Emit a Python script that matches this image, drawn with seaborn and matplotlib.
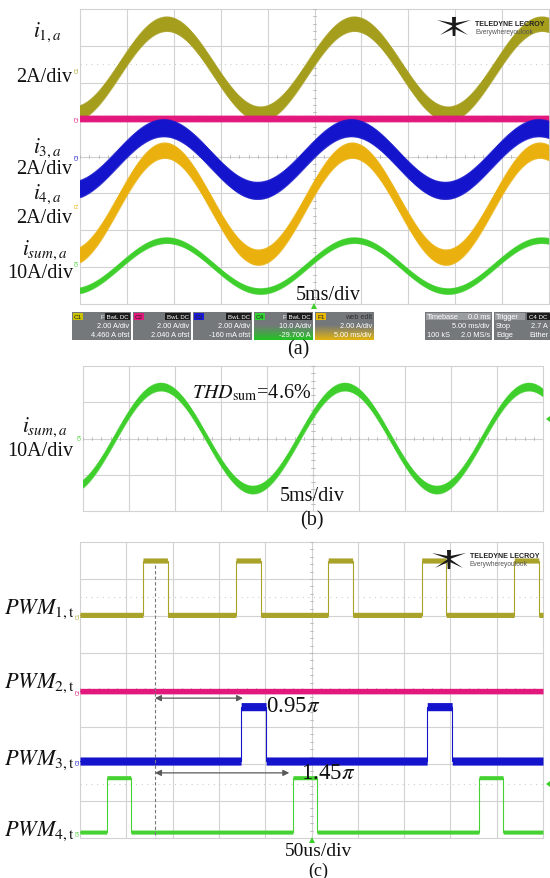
import numpy as np
import pandas as pd
import matplotlib
matplotlib.use("Agg")
import matplotlib.pyplot as plt
from matplotlib.patches import Rectangle, Polygon
import seaborn as sns

W, H, DPI = 550, 879, 100

# ---------------- (a) leg currents, 5 ms/div ----------------
a_channels = ["i1", "i2", "i3", "i4", "isum"]
a_colors = ["#a59d1c", "#e2187c", "#1414cc", "#eab10e", "#3fcf2c"]
a_scale = [2.0, 2.0, 2.0, 2.0, 10.0]              # A/div
a_offset = [4.46, 2.04, -0.16, -2.58, -29.70]     # A (scope offset)
a_dc = [0.28, 0.0, 0.0, 0.0, 0.0]                 # A
a_amp = [2.44, 0.0, 1.70, 2.90, 6.90]             # A peak
a_peak_ms = [9.26, 9.26, 8.94, 9.04, 9.26]        # first positive peak
a_ripple = [0.80, 0.33, 0.95, 0.85, 1.60]         # A peak-to-peak
a_marks = ["C1", "C2", "C3", "F1", "C4"]

# ---------------- (b) summed current, 5 ms/div ----------------
b_amp = 14.2        # A peak
b_peak_ms = 8.48
b_ripple = 2.2      # A peak-to-peak
b_scale = 10.0
b_thd = "4.6%"

# ---------------- (c) gate signals, 50 us/div ----------------
c_channels = ["PWM1", "PWM2", "PWM3", "PWM4"]
c_colors = ["#aaa32a", "#e2187c", "#1414cc", "#46d232"]
c_low = [2.03, -0.03, -1.92, -3.84]               # div
c_pulse_height = 1.47                             # div
c_band = [0.14, 0.15, 0.22, 0.11]                 # div
c_starts = [[68.0, 168.5, 268.0, 369.0, 469.0], [], [174.0, 375.0], [29.0, 230.0, 431.0]]
c_width = [26.5, 0.0, 27.0, 26.0]                 # us
c_ref_us = 81.0                                   # dashed reference line
c_half_period_us = 100.0                          # pi
c_phase = [0.95, 1.45]
c_phase_y = [-0.22, -2.24]                        # div

F_FUND = 50.0       # Hz
F_SW = 10000.0      # Hz

sns.set_theme(style="white")
plt.rcParams["font.family"] = ["Liberation Serif", "DejaVu Serif"]
plt.rcParams["mathtext.fontset"] = "stix"

fig = plt.figure(figsize=(W / DPI, H / DPI), dpi=DPI)
fig.patch.set_facecolor("white")


def add_ax(x0, y0, x1, y1):
    return fig.add_axes([x0 / W, 1 - y1 / H, (x1 - x0) / W, (y1 - y0) / H])


GRID = "#d2d2d2"


def scope_grid(ax, xmax, ndiv_y):
    half = ndiv_y / 2
    ax.set_xlim(0, xmax)
    ax.set_ylim(-half, half)
    ax.axis("off")
    for i in range(11):
        ax.axvline(i * xmax / 10, color=GRID, lw=0.8, clip_on=False, zorder=0)
    for j in range(ndiv_y + 1):
        ax.axhline(-half + j, color=GRID, lw=0.8, clip_on=False, zorder=0)
    dx = xmax / 10
    for k in range(51):
        x = k * dx / 5
        ax.plot([x, x], [-0.05, 0.05], color="#b5b5b5", lw=0.6, zorder=0)
    for k in range(ndiv_y * 5 + 1):
        y = -half + k / 5
        ax.plot([xmax / 2 - dx * 0.04, xmax / 2 + dx * 0.04], [y, y], color="#b5b5b5", lw=0.6, zorder=0)


def zigzag_trace(t_end_ms, center, ripple):
    # switching ripple sampled at each half period of the carrier
    half = 1000.0 / F_SW / 2
    t = np.arange(0, t_end_ms + half, half)
    sign = np.where(np.arange(len(t)) % 2 == 0, 1.0, -1.0)
    return t, center(t) + sign * ripple / 2


# ---------------- panel (a) ----------------
ax_a = add_ax(80, 10, 549, 305)
scope_grid(ax_a, 50, 8)
ax_a.axhline((157.5 - 65) / 36.9, color="#cfcfcf", lw=0.8, ls=(0, (1, 4)), zorder=0)
rows = []
for ch, sc, off, dc, amp, pk, rip in zip(a_channels, a_scale, a_offset, a_dc, a_amp, a_peak_ms, a_ripple):
    center = lambda t, amp=amp, pk=pk, dc=dc, off=off, sc=sc: (
        amp * np.cos(2 * np.pi * F_FUND * (t - pk) / 1000.0) + dc + off) / sc
    t, y = zigzag_trace(50, center, rip / sc)
    rows.append(pd.DataFrame({"t": t, "y": y, "ch": ch}))
    tt = np.linspace(0, 50, 1200)
    col = a_colors[a_channels.index(ch)]
    ax_a.fill_between(tt, center(tt) - rip / sc / 2, center(tt) + rip / sc / 2,
                      color=col, alpha=0.5, lw=0, zorder=1 + a_channels.index(ch))
df_a = pd.concat(rows)
for i, ch in enumerate(a_channels):
    sns.lineplot(data=df_a[df_a.ch == ch], x="t", y="y", color=a_colors[i], lw=0.6,
                 estimator=None, sort=False, legend=False, ax=ax_a, zorder=1 + i)
ax_a.set_xlim(0, 50)
ax_a.set_ylim(-4, 4)

# ---------------- panel (b) ----------------
ax_b = add_ax(83, 367, 543, 512)
scope_grid(ax_b, 50, 4)
center_b = lambda t: b_amp * np.cos(2 * np.pi * F_FUND * (t - b_peak_ms) / 1000.0) / b_scale
t_b, y_b = zigzag_trace(50, center_b, b_ripple / b_scale)
df_b = pd.DataFrame({"t": t_b, "y": y_b})
tt = np.linspace(0, 50, 1200)
ax_b.fill_between(tt, center_b(tt) - b_ripple / b_scale / 2, center_b(tt) + b_ripple / b_scale / 2,
                  color="#3fcf2c", alpha=0.5, lw=0)
sns.lineplot(data=df_b, x="t", y="y", color="#3fcf2c", lw=0.6, estimator=None, sort=False,
             legend=False, ax=ax_b)
ax_b.set_xlim(0, 50)
ax_b.set_ylim(-2, 2)

# ---------------- panel (c) ----------------
ax_c = add_ax(80, 543, 543, 839)
scope_grid(ax_c, 500, 8)
for yy in [(691 - 598) / 37, (691 - 785) / 37]:
    ax_c.axhline(yy, color="#cfcfcf", lw=0.8, ls=(0, (1, 4)), zorder=0)
tc = np.linspace(0, 500, 5001)
rows = []
for i, ch in enumerate(c_channels):
    level = np.full_like(tc, c_low[i])
    xs, ys = [0.0], [c_low[i]]
    for s in c_starts[i]:
        e = s + c_width[i]
        level[(tc >= s) & (tc < e)] += c_pulse_height
        xs += [s, s, e, e]
        ys += [c_low[i], c_low[i] + c_pulse_height, c_low[i] + c_pulse_height, c_low[i]]
    xs.append(500.0)
    ys.append(c_low[i])
    rows.append(pd.DataFrame({"t": xs, "y": ys, "ch": ch}))
    ax_c.fill_between(tc, level - c_band[i] / 2, level + c_band[i] / 2, color=c_colors[i],
                      lw=0, zorder=2 + i)
df_c = pd.concat(rows)
for i, ch in enumerate(c_channels):
    sns.lineplot(data=df_c[df_c.ch == ch], x="t", y="y", color=c_colors[i], lw=0.8,
                 estimator=None, sort=False, legend=False, ax=ax_c, zorder=2 + i)
ax_c.plot([c_ref_us, c_ref_us], [3.38, -4], color="#777777", lw=0.8, ls=(0, (3, 2)), zorder=6)
for ph, yy in zip(c_phase, c_phase_y):
    ax_c.annotate("", xy=(c_ref_us + ph * c_half_period_us, yy), xytext=(c_ref_us, yy),
                  arrowprops=dict(arrowstyle="<|-|>", color="#5a5a5a", lw=0.9,
                                  mutation_scale=9, shrinkA=0, shrinkB=0), zorder=7)
ax_c.set_xlim(0, 500)
ax_c.set_ylim(-4, 4)

# ---------------- overlay in pixel coordinates ----------------
ov = fig.add_axes([0, 0, 1, 1])
ov.set_xlim(0, W)
ov.set_ylim(H, 0)
ov.axis("off")
ov.patch.set_alpha(0)

SER = dict(color="#111111", ha="center", va="center")
# (a) labels
ov.text(47, 32, r"$i_{1,a}$", fontsize=15.5, **SER)
ov.text(44, 78, "2A/div", fontsize=14.5, **SER)
ov.text(47, 148, r"$i_{3,a}$", fontsize=15.5, **SER)
ov.text(44, 170, "2A/div", fontsize=14.5, **SER)
ov.text(47, 194, r"$i_{4,a}$", fontsize=15.5, **SER)
ov.text(44, 219, "2A/div", fontsize=14.5, **SER)
ov.text(45, 250, r"$i_{sum,a}$", fontsize=15.5, **SER)
ov.text(40, 274, "10A/div", fontsize=14.5, **SER)
ov.text(328, 296, "5ms/div", fontsize=14.5, **SER)
ov.text(298, 350, "(a)", fontsize=14.5, **SER)
# (b) labels
ov.text(45, 427, r"$i_{sum,a}$", fontsize=15.5, **SER)
ov.text(40, 452, "10A/div", fontsize=14.5, **SER)
ov.text(252, 393, r"$THD_{\mathrm{sum}}$=" + b_thd, fontsize=14.5, **SER)
ov.text(312, 497, "5ms/div", fontsize=14.5, **SER)
ov.text(312, 521, "(b)", fontsize=14.5, **SER)
# (c) labels
for i, base in enumerate([614, 688, 765, 836]):
    ov.text(75, base, r"$PWM_{%d,\mathrm{t}}$" % (i + 1), fontsize=16, color="#111111",
            ha="right", va="baseline")
ov.text(266, 707, r"0.95$\pi$", fontsize=16.5, color="#111111", ha="left", va="center")
ov.text(301, 774, r"1.45$\pi$", fontsize=16.5, color="#111111", ha="left", va="center")
ov.text(318, 852, "50us/div", fontsize=14, **SER)
ov.text(318, 871.5, "(c)", fontsize=13, **SER)

# channel markers at the left edge of the graticules
SANS = ["Liberation Sans", "DejaVu Sans"]
for name, yy, col in zip(a_marks, [70, 119, 157, 205, 263], a_colors):
    ov.text(77, yy, name, fontsize=3.5, color=col, rotation=90, ha="center", va="center", family=SANS)
ov.text(80, 437, "C4", fontsize=3.5, color="#3fcf2c", rotation=90, ha="center", va="center", family=SANS)
for name, yy, col in zip(["C1", "C2", "C3", "C4"], [616, 692, 762, 833], c_colors):
    ov.text(78, yy, name, fontsize=3.5, color=col, rotation=90, ha="center", va="center", family=SANS)

# trigger markers
for (x, y) in [(314, 306), (312, 840)]:
    ov.add_patch(Polygon([(x - 3, y + 4), (x + 3, y + 4), (x, y - 2)], closed=True, color="#3fcf2c", lw=0))
for (x, y) in [(546, 420), (546, 785)]:
    ov.add_patch(Polygon([(x + 4, y - 3), (x + 4, y + 3), (x, y)], closed=True, color="#3fcf2c", lw=0))


def logo(x, y):
    # stylised bird mark and brand text
    pts = [
        [(x, y + 3), (x + 16, y + 6), (x + 16, y + 9)],
        [(x + 34, y + 3), (x + 18, y + 6), (x + 18, y + 9)],
        [(x + 15, y), (x + 19, y), (x + 18.3, y + 19), (x + 15.7, y + 19)],
        [(x + 3, y + 18), (x + 16, y + 9), (x + 16, y + 12)],
        [(x + 31, y + 18), (x + 18, y + 9), (x + 18, y + 12)],
    ]
    for p in pts:
        ov.add_patch(Polygon(p, closed=True, color="#1a1a1a", lw=0))
    ov.text(x + 38, y + 6, "TELEDYNE LECROY", fontsize=5.1, fontweight="bold", color="#222222",
            ha="left", va="center", family=SANS)
    ov.text(x + 38, y + 14, "Everywhereyoulook", fontsize=4.8, color="#555555",
            ha="left", va="center", family=SANS)


logo(437, 18)
logo(432, 551)

# status bar under panel (a)
BOX = "#74787b"
TXT = dict(fontsize=5.3, color="white", family=SANS, va="center")
by0, by1 = 313, 341
ch_boxes = [
    (72, 131, "C1", "#c9c200", "F BwL DC", ["2.00 A/div", "4.460 A ofst"], None),
    (133, 191, "C2", "#e2187c", "BwL DC", ["2.00 A/div", "2.040 A ofst"], None),
    (193, 252, "C3", "#1a1ad8", "BwL DC", ["2.00 A/div", "-160 mA ofst"], None),
    (254, 313, "C4", "#34d234", "F BwL DC", ["10.0 A/div", "-29.700 A"], "#22c422"),
    (315, 374, "F1", "#e8b800", "web edit", ["2.00 A/div", "5.00 ms/div"], "#e2b410"),
]
for x0, x1, tag, tcol, flags, lines, grad in ch_boxes:
    ov.add_patch(Rectangle((x0, by0), x1 - x0, by1 - by0, color=BOX, lw=0))
    if grad is not None:
        rgb = np.array(matplotlib.colors.to_rgb(grad))
        base = np.array(matplotlib.colors.to_rgb(BOX))
        f = np.clip((np.linspace(0, 1, 40) - 0.25) / 0.75, 0, 1)[:, None]
        img = (base * (1 - f) + rgb * f)[:, None, :].repeat(2, axis=1)
        ov.imshow(img, extent=(x0, x1, by1, by0 + 8), aspect="auto", zorder=2)
    ov.add_patch(Rectangle((x0 + 1, by0 + 1), 10, 7, color=tcol, lw=0, zorder=3))
    ov.text(x0 + 2, by0 + 4.6, tag, fontsize=4.6, color="#222222", family=SANS, va="center", zorder=4)
    if tag != "F1":
        ov.add_patch(Rectangle((x1 - 26, by0 + 1), 25, 7, color="#1c1c1c", lw=0, zorder=3))
        ov.text(x1 - 2, by0 + 4.6, flags, ha="right", zorder=4, **{**TXT, "fontsize": 4.4})
    else:
        ov.text(x1 - 2, by0 + 4.6, flags, ha="right", zorder=4, **{**TXT, "color": "#333333"})
    ov.text(x1 - 2, by0 + 14, lines[0], ha="right", zorder=4, **TXT)
    ov.text(x1 - 2, by0 + 22.5, lines[1], ha="right", zorder=4, **TXT)

ov.add_patch(Rectangle((425, by0), 67, by1 - by0, color=BOX, lw=0))
ov.add_patch(Rectangle((426, by0 + 1), 65, 7, color="#9a9da0", lw=0))
ov.text(427, by0 + 4.6, "Timebase", ha="left", **TXT)
ov.text(490, by0 + 4.6, "0.0 ms", ha="right", **TXT)
ov.text(490, by0 + 14, "5.00 ms/div", ha="right", **TXT)
ov.text(427, by0 + 22.5, "100 kS", ha="left", **TXT)
ov.text(490, by0 + 22.5, "2.0 MS/s", ha="right", **TXT)

ov.add_patch(Rectangle((494, by0), 60, by1 - by0, color=BOX, lw=0))
ov.add_patch(Rectangle((495, by0 + 1), 30, 7, color="#9a9da0", lw=0))
ov.add_patch(Rectangle((527, by0 + 1), 24, 7, color="#1c1c1c", lw=0))
ov.text(496, by0 + 4.6, "Trigger", ha="left", **TXT)
ov.text(529, by0 + 4.6, "C4 DC", ha="left", **{**TXT, "fontsize": 4.4})
ov.text(496, by0 + 14, "Stop", ha="left", **TXT)
ov.text(548, by0 + 14, "2.7 A", ha="right", **TXT)
ov.text(496, by0 + 22.5, "Edge", ha="left", **TXT)
ov.text(548, by0 + 22.5, "Either", ha="right", **TXT)

ov.set_xlim(0, W)
ov.set_ylim(H, 0)

fig.savefig("out.png", dpi=DPI, facecolor="white")
